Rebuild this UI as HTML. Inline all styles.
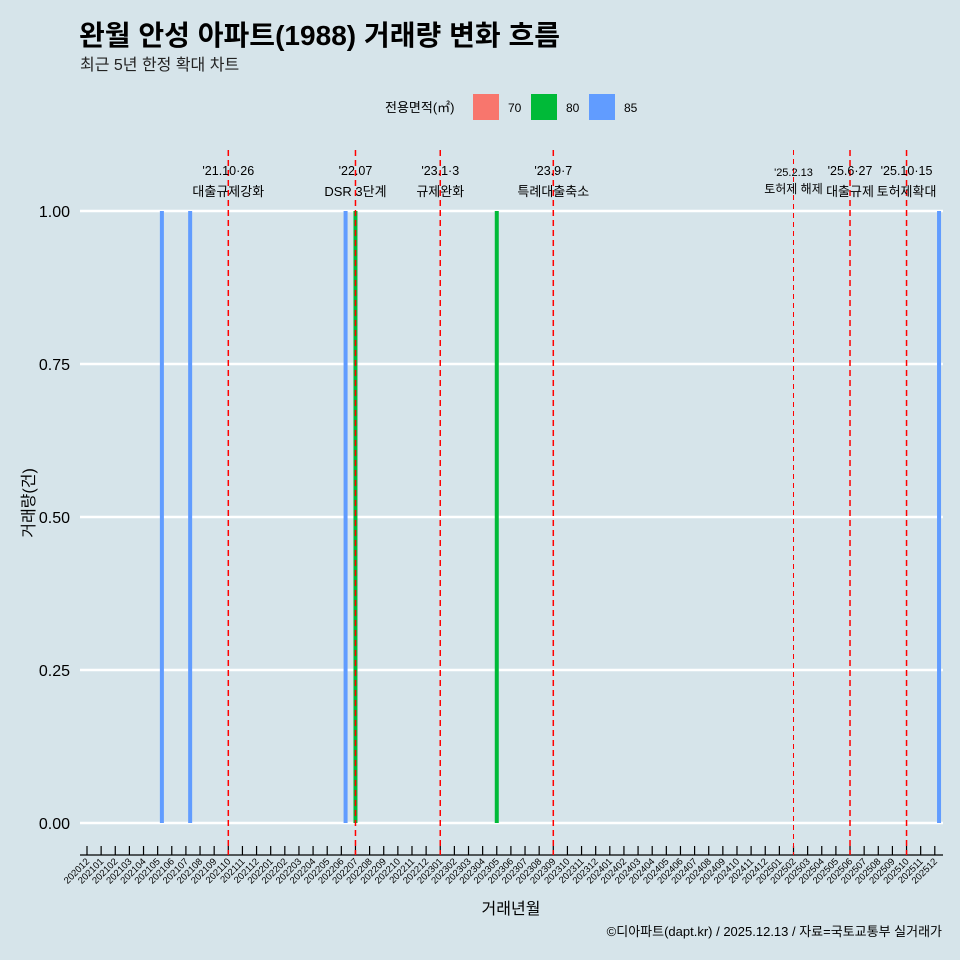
<!DOCTYPE html>
<html><head><meta charset="utf-8"><style>
html,body{margin:0;padding:0;overflow:hidden;background:#d6e4ea;font-family:"Liberation Sans","Noto Sans CJK KR",sans-serif;}
svg{display:block}
</style></head><body>
<svg id="c" width="960" height="960" xmlns="http://www.w3.org/2000/svg" style="font-family:'Liberation Sans','Noto Sans CJK KR',sans-serif">
<rect width="960" height="960" fill="#d6e4ea"/>
<text x="79" y="45" font-size="28" font-weight="bold" fill="#000" textLength="481">완월 안성 아파트(1988) 거래량 변화 흐름</text>
<text x="80" y="70" font-size="16" fill="#222">최근 5년 한정 확대 차트</text>
<g>
<text x="385" y="112" font-size="13">전용면적(㎡)</text>
<rect x="473" y="94" width="26" height="26" fill="#f8766d"/>
<text x="508" y="112" font-size="12">70</text>
<rect x="531" y="94" width="26" height="26" fill="#00ba38"/>
<text x="566" y="112" font-size="12">80</text>
<rect x="589" y="94" width="26" height="26" fill="#619cff"/>
<text x="624" y="112" font-size="12">85</text>
</g>
<g id="plot"></g>
<text x="511" y="914" font-size="16" text-anchor="middle">거래년월</text>
<text x="34" y="503" font-size="16" text-anchor="middle" transform="rotate(-90 34 503)">거래량(건)</text>
<text x="942" y="936" font-size="13" text-anchor="end">©디아파트(dapt.kr) / 2025.12.13 / 자료=국토교통부 실거래가</text>
</svg>
<script>
const yTicks=[0,0.25,0.5,0.75,1];
const yTickLabels=["0.00","0.25","0.50","0.75","1.00"];
// bars: month index (0=202012) with day fraction, value, area
const barMonth=[5.3,7.3,18.3,19.0,29.0,60.3];
const barValue=[1,1,1,1,1,1];
const barArea=["85","85","85","80","80","85"];
const eventMonth=[10,19,25,33,50,54,58];
const eventDate=["'21.10·26","'22.07","'23.1·3","'23.9·7","'25.2.13","'25.6·27","'25.10·15"];
const eventText=["대출규제강화","DSR 3단계","규제완화","특례대출축소","토허제 해제","대출규제","토허제확대"];
const colors={"70":"#f8766d","80":"#00ba38","85":"#619cff"};
const NS="http://www.w3.org/2000/svg";
const g=document.getElementById('plot');
const x=m=>87+m*14.13;
const y=v=>823-v*612;
function mk(t,a){const e=document.createElementNS(NS,t);for(const k in a)e.setAttribute(k,a[k]);g.appendChild(e);return e;}
yTicks.forEach((v,i)=>{
 const l=mk('line',{x1:80,x2:943,y1:y(v),y2:y(v),stroke:'#fff','stroke-width':2.5});
 
 
 const t=mk('text',{x:70,y:y(v)+6,'font-size':16,'text-anchor':'end'});t.textContent=yTickLabels[i];
 
 
});
barMonth.forEach((m,i)=>{
 const r=mk('rect',{x:x(m)-2,y:y(barValue[i]),width:4,height:y(0)-y(barValue[i]),fill:colors[barArea[i]]});
 
 
});
const ax=mk('line',{x1:80,x2:943,y1:855,y2:855,stroke:'#000','stroke-width':1.2});


for(let i=0;i<=60;i++){
 const yr=2020+Math.floor((11+i)/12),mo=(11+i)%12+1;
 const lab=yr+String(mo).padStart(2,'0');
 const tk=mk('line',{x1:x(i),x2:x(i),y1:846,y2:855,stroke:'#000','stroke-width':1.2});
 
 
 const t=mk('text',{x:x(i)+3,y:862,'font-size':9.5,'text-anchor':'end',transform:`rotate(-45 ${x(i)+3} 862)`});
 t.textContent=lab;
 
 
}
eventMonth.forEach((m,i)=>{
 const thin=i===4;
 const l=mk('line',{x1:x(m),x2:x(m),y1:150,y2:855,stroke:'#ff0000','stroke-width':thin?1:1.5,'stroke-dasharray':thin?'5,4':'6,4'});
 
 
 const t1=mk('text',{x:x(m),y:thin?176:175,'font-size':thin?11:12.5,'text-anchor':'middle'});t1.textContent=eventDate[i];
 
 
 const t2=mk('text',{x:x(m),y:thin?193:196,'font-size':thin?12:13,'text-anchor':'middle'});t2.textContent=eventText[i];
 
 
});
</script>
</body></html>
